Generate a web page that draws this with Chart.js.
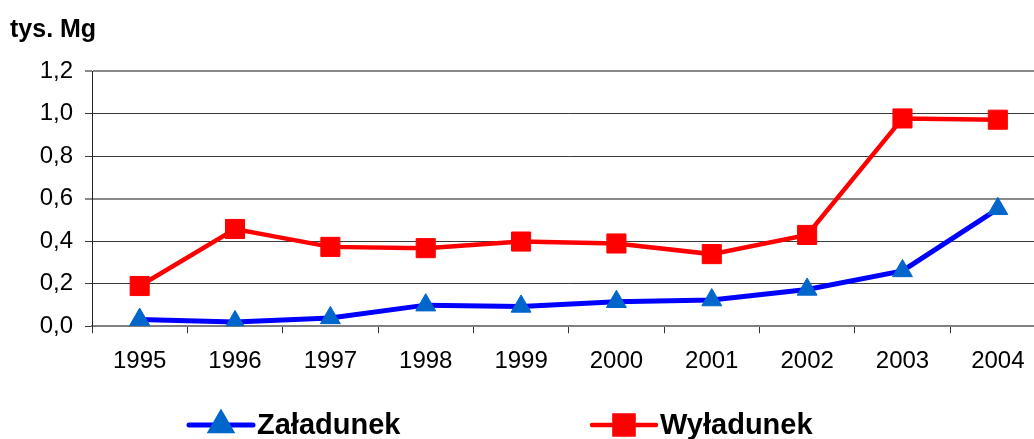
<!DOCTYPE html>
<html>
<head>
<meta charset="utf-8">
<script src="https://cdn.jsdelivr.net/npm/chart.js@4.4.1/dist/chart.umd.min.js"></script>
<style>
  html, body { margin: 0; padding: 0; background: #fff; overflow: hidden; }
  #c { position: absolute; left: 0; top: 0; width: 1060px; height: 439px; }
</style>
</head>
<body>
<canvas id="c" width="1060" height="439"></canvas>
<script>
const years = ['1995', '1996', '1997', '1998', '1999', '2000', '2001', '2002', '2003', '2004'];
const zaladunek = [0.031, 0.020, 0.039, 0.099, 0.093, 0.115, 0.123, 0.173, 0.260, 0.552];
const wyladunek = [0.189, 0.457, 0.373, 0.367, 0.398, 0.389, 0.339, 0.429, 0.977, 0.971];
const seriesNames = ['Załadunek', 'Wyładunek'];
const unitLabel = 'tys. Mg';

const FONT = "'Liberation Sans', Arial, sans-serif";

const extras = {
  id: 'extras',
  afterDraw(chart) {
    const ctx = chart.ctx;
    ctx.save();
    // unit label
    ctx.fillStyle = '#000';
    ctx.font = 'bold 25px ' + FONT;
    ctx.textAlign = 'left';
    ctx.textBaseline = 'alphabetic';
    ctx.fillText(unitLabel, 10, 37);
    // legend
    const starts = [189, 592];
    const ly = 425;
    chart.data.datasets.forEach((ds, i) => {
      const x0 = starts[i];
      ctx.strokeStyle = ds.borderColor;
      ctx.lineWidth = ds.borderWidth;
      ctx.lineCap = 'round';
      ctx.beginPath();
      ctx.moveTo(x0, ly);
      ctx.lineTo(x0 + 64, ly);
      ctx.stroke();
      ctx.fillStyle = ds.pointBackgroundColor;
      ctx.strokeStyle = ds.pointBorderColor;
      Chart.helpers.drawPoint(ctx, {
        pointStyle: ds.pointStyle, radius: ds.pointRadius, rotation: 0, borderWidth: ds.pointBorderWidth
      }, x0 + 32, ly);
      ctx.fillStyle = '#000';
      ctx.font = 'bold 29px ' + FONT;
      ctx.textBaseline = 'middle';
      ctx.fillText(ds.label, x0 + 68, ly + 1);
    });
    ctx.restore();
  }
};

new Chart(document.getElementById('c'), {
  type: 'line',
  data: {
    labels: years,
    datasets: [
      {
        label: seriesNames[0],
        data: zaladunek,
        borderColor: '#0000FF',
        borderWidth: 5,
        pointStyle: 'triangle',
        pointRadius: 11.5,
        pointHoverRadius: 11.5,
        pointBackgroundColor: '#0066CC',
        pointBorderColor: '#0066CC',
        pointBorderWidth: 1,
        tension: 0
      },
      {
        label: seriesNames[1],
        data: wyladunek,
        borderColor: '#FF0000',
        borderWidth: 4.5,
        pointStyle: 'rect',
        pointRadius: 13.5,
        pointHoverRadius: 13.5,
        pointBackgroundColor: '#FF0000',
        pointBorderColor: '#FF0000',
        pointBorderWidth: 1,
        tension: 0
      }
    ]
  },
  options: {
    responsive: false,
    maintainAspectRatio: false,
    animation: false,
    devicePixelRatio: 1,
    layout: { padding: { left: 0, right: 0, top: 71, bottom: 49 } },
    plugins: {
      legend: { display: false },
      title: { display: false },
      tooltip: { enabled: false }
    },
    scales: {
      x: {
        type: 'category',
        offset: true,
        grid: {
          offset: true,
          drawOnChartArea: false,
          drawTicks: true,
          tickLength: 7,
          color: '#333'
        },
        border: { display: true, color: '#7f7f7f', width: 2 },
        ticks: {
          color: '#000',
          font: { family: FONT, size: 24 },
          padding: 14,
          maxRotation: 0,
          autoSkip: false
        }
      },
      y: {
        min: 0,
        max: 1.2,
        afterFit(scale) { scale.width = 92; },
        grid: {
          color: (c) => (c.tick && (Math.abs(c.tick.value - 1.2) < 1e-6 || Math.abs(c.tick.value - 0.6) < 1e-6)) ? '#8a8a8a' : '#3a3a3a',
          lineWidth: (c) => (c.tick && (Math.abs(c.tick.value - 1.2) < 1e-6 || Math.abs(c.tick.value - 0.6) < 1e-6)) ? 2 : 1,
          drawTicks: true,
          tickLength: 7
        },
        border: { display: true, color: '#222', width: 1 },
        ticks: {
          stepSize: 0.2,
          color: '#000',
          font: { family: FONT, size: 24 },
          padding: 12,
          callback: (v) => Number(v).toFixed(1).replace('.', ',')
        }
      }
    }
  },
  plugins: [extras]
});
</script>
</body>
</html>
